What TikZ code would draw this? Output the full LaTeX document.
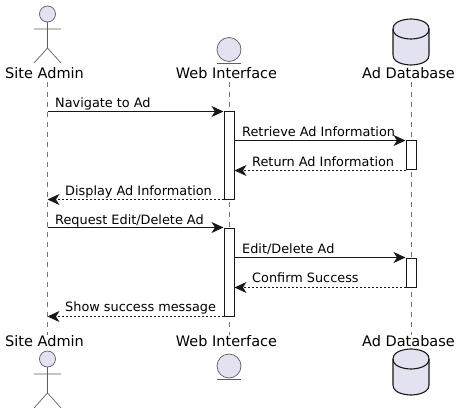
\documentclass[tikz,border=0pt]{standalone}
\usepackage{fontspec}
\setmainfont{DejaVu Sans}
\usetikzlibrary{arrows.meta}
\definecolor{partfill}{HTML}{E2E2F0}
\definecolor{partline}{HTML}{181818}
\tikzset{%
  every part/.style={
    inner sep=0pt,
    font=\fontsize{14.5}{17}\selectfont
  },
  every bar/.style={
    draw=partline,
    fill=white,
    line width=1pt,
    inner sep=0pt,
    minimum width=10pt
  },
  every text/.style={
    inner sep=0pt,
    anchor=base west,
    font=\fontsize{12.85}{15}\selectfont
  },
  lifeline/.style={
    draw=partline!60,
    line width=0.6pt,
    dash pattern=on 5pt off 5pt
  },
  thinpart/.style={
    draw=partline!70,
    line width=0.7pt
  },
  message/.style={
    ->,
    draw=partline,
    line width=1pt
  },
  reply/.style={
    message,
    dash pattern=on 2pt off 2pt
  },
}

\begin{document}
\begin{tikzpicture}[x=1pt, y=-1pt, >={Stealth[length=12pt,width=11pt,inset=3.5pt]}]
    \useasboundingbox (0,0) rectangle (460,414);

    %%%%%%%%%%%%%%%%%%%%%%%%%%%%%%%%%%%%%%%%%%%%
    % Participants
    %%%%%%%%%%%%%%%%%%%%%%%%%%%%%%%%%%%%%%%%%%%%

    % Labels
    \foreach \s/\y in {top/73, bottom/341} {
        \node [every part] (admin-\s) at (44.5,\y) {Site Admin};
        \node [every part] (web-\s) at (226.5,\y) {Web Interface};
        \node [every part] (db-\s) at (408.5,\y) {Ad Database};
    }

    % Actor
    \foreach \y in {14,359} {
        \draw [thinpart, fill=partfill] (47.5,\y) circle (8);
        \draw [thinpart] (47.5,\y+8) -- (47.5,\y+34)
            (34,\y+15) -- (61,\y+15)
            (34,\y+49) -- (47.5,\y+34) -- (61,\y+49);
    }

    % Entity
    \foreach \y in {49.5,366} {
        \draw [thinpart, fill=partfill] (229,\y) circle (12);
        \draw [thinpart] (217,\y+13.5) -- (241,\y+13.5);
    }

    % Database
    \foreach \y in {19,349} {
        \draw [draw=partline, fill=partfill, line width=1.1pt]
            (393,\y+10) .. controls (393,\y) and (411,\y) .. (411,\y)
            .. controls (411,\y) and (429,\y) .. (429,\y+10)
            -- (429,\y+36) .. controls (429,\y+46) and (411,\y+46) .. (411,\y+46)
            .. controls (411,\y+46) and (393,\y+46) .. (393,\y+36) -- cycle;
        \draw [draw=partline, line width=1.1pt]
            (393,\y+10) .. controls (393,\y+20) and (411,\y+20) .. (411,\y+20)
            .. controls (411,\y+20) and (429,\y+20) .. (429,\y+10);
    }

    %%%%%%%%%%%%%%%%%%%%%%%%%%%%%%%%%%%%%%%%%%%%
    % Lifelines
    %%%%%%%%%%%%%%%%%%%%%%%%%%%%%%%%%%%%%%%%%%%%
    \coordinate (admin-a) at (47.5,82);
    \coordinate (admin-b) at (47.5,335);
    \coordinate (web-a) at (229,82);
    \coordinate (web-b) at (229,335);
    \coordinate (db-a) at (411,82);
    \coordinate (db-b) at (411,335);
    \foreach \m in {admin,web,db}
        \draw [lifeline] (\m-a) -- (\m-b);

    %%%%%%%%%%%%%%%%%%%%%%%%%%%%%%%%%%%%%%%%%%%%
    % Activation bars
    %%%%%%%%%%%%%%%%%%%%%%%%%%%%%%%%%%%%%%%%%%%%
    \node [every bar, minimum height=87pt] (webbar-1) at (229,155.5) {};
    \node [every bar, minimum height=88pt] (webbar-2) at (229,272) {};
    \node [every bar, minimum height=29pt] (dbbar-1) at (411,155.5) {};
    \node [every bar, minimum height=29pt] (dbbar-2) at (411,272.5) {};

    %%%%%%%%%%%%%%%%%%%%%%%%%%%%%%%%%%%%%%%%%%%%
    % Messages
    %%%%%%%%%%%%%%%%%%%%%%%%%%%%%%%%%%%%%%%%%%%%
    \foreach \i in {1,2} {
        % Admin to web
        \draw [message] (admin-a |- webbar-\i.north) -- (webbar-\i.north west);
        % Web to database and back
        \draw [message] (webbar-\i.east |- dbbar-\i.north) -- (dbbar-\i.north west);
        \draw [reply] (dbbar-\i.south west) -- (webbar-\i.east |- dbbar-\i.south);
        % Web to admin
        \draw [reply] (webbar-\i.south west) -- (admin-a |- webbar-\i.south);
    }

    % Labeling
    \node [every text] (msg-1) at (55,107.7) {Navigate to Ad};
    \node [every text] (msg-2) at (242,136.7) {Retrieve Ad Information};
    \node [every text] (msg-3) at (252,166.7) {Return Ad Information};
    \node [every text] (msg-4) at (65,195.7) {Display Ad Information};
    \node [every text] (msg-5) at (55,224.7) {Request Edit/Delete Ad};
    \node [every text] (msg-6) at (242,253.7) {Edit/Delete Ad};
    \node [every text] (msg-7) at (252,282.7) {Confirm Success};
    \node [every text] (msg-8) at (65,311.7) {Show success message};
\end{tikzpicture}
\end{document}
